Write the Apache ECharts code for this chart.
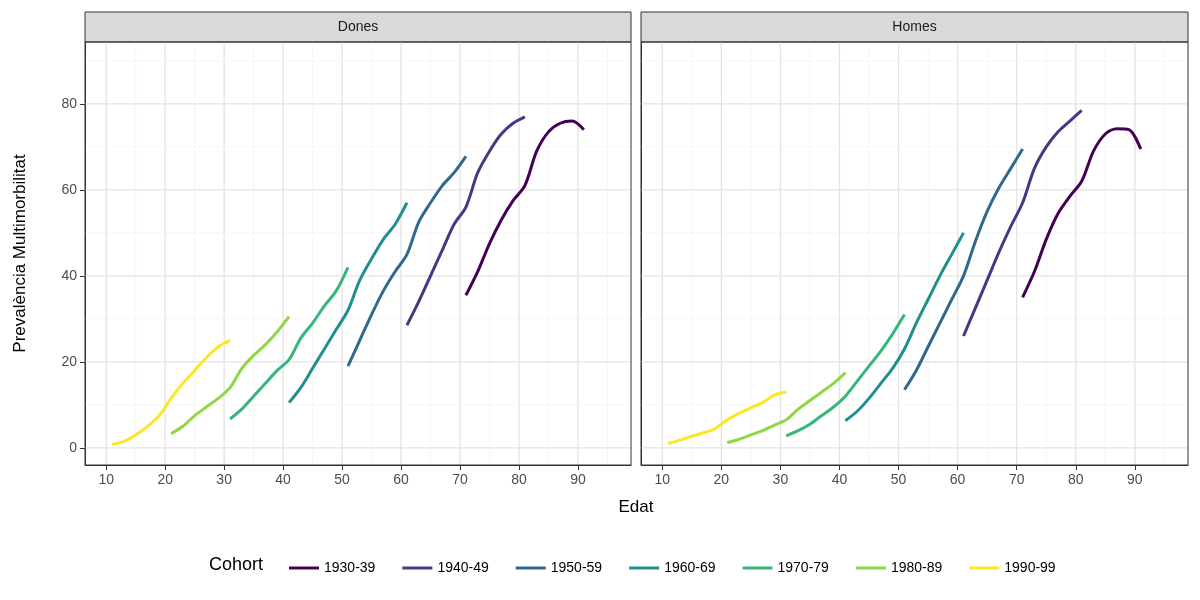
<!DOCTYPE html>
<html><head><meta charset="utf-8">
<script src="https://cdn.jsdelivr.net/npm/echarts@6/dist/echarts.min.js"></script>
<style>html,body{margin:0;background:#fff}#c{width:1200px;height:600px}</style>
</head><body><div id="c"></div>
<script>
var panels = ['Dones', 'Homes'];
var cohorts = ['1930-39', '1940-49', '1950-59', '1960-69', '1970-79', '1980-89', '1990-99'];
var colors = ['#440154', '#443A83', '#31688E', '#21908C', '#35B779', '#8FD744', '#FDE725'];
// start age of each cohort line; points every 2 years
var startAge = [71, 61, 51, 41, 31, 21, 11];
var dones = [
    [35.5, 41, 47.5, 53, 57.5, 61, 69, 73.5, 75.5, 76, 74],
    [28.5, 34, 40, 46, 52, 56, 64, 69, 73, 75.5, 77],
    [19, 25, 31, 36.5, 41, 45, 52.5, 57, 61, 64, 67.8],
    [10.5, 14, 18.5, 23, 27.5, 32, 39, 44, 48.5, 52, 57],
    [6.7, 9, 12, 15, 18, 20.5, 25.5, 29, 33, 36.5, 42],
    [3.3, 5, 7.5, 9.5, 11.5, 14, 18.5, 21.5, 24, 27, 30.5],
    [0.8, 1.5, 3, 5, 7.5, 11.5, 15, 18, 21, 23.5, 25]
];
var homes = [
    [35, 41, 48.5, 54.5, 58.5, 62, 69, 73, 74.2, 74, 69.5],
    [26, 32.5, 39, 45.5, 51.5, 57, 65, 70, 73.5, 76, 78.5],
    [13.5, 18, 23.5, 29, 34.5, 40, 48, 55, 60.5, 65, 69.5],
    [6.3, 8.5, 11.5, 15, 18.5, 23, 29, 34.5, 40, 45, 50],
    [2.8, 4, 5.5, 7.5, 9.5, 12, 15.5, 19, 22.5, 26.5, 31],
    [1.2, 2, 3, 4, 5.3, 6.5, 9, 11, 13, 15, 17.5],
    [1, 1.8, 2.7, 3.5, 4.5, 6.5, 8, 9.3, 10.5, 12.3, 13]
];
var xTicks = [10, 20, 30, 40, 50, 60, 70, 80, 90];
var yTicks = [0, 20, 40, 60, 80];

var chart = echarts.init(document.getElementById('c'));
var grids = [{left: 85, width: 546, top: 42, height: 423}, {left: 641, width: 547, top: 42, height: 423}];
var axisText = {color: '#4d4d4d', fontSize: 14, fontFamily: 'Liberation Sans'};
var X0 = 6.4, X1 = 99, Y0 = -4, Y1 = 94.4;
var xAxes = [], yAxes = [], series = [], graphic = [];
[0, 1].forEach(function (p) {
    xAxes.push({
        type: 'value', gridIndex: p, min: X0, max: X1,
        axisLabel: Object.assign({customValues: xTicks}, axisText),
        axisTick: {customValues: xTicks, lineStyle: {color: '#333'}},
        axisLine: {onZero: false, lineStyle: {color: '#333'}},
        splitLine: {show: false},
        name: p === 0 ? 'Edat' : '', nameLocation: 'middle', nameGap: 34,
        nameTextStyle: {fontSize: 17, color: '#000', fontFamily: 'Liberation Sans', padding: [0, 0, 0, 556]}
    });
    yAxes.push({
        type: 'value', gridIndex: p, min: Y0, max: Y1,
        axisLabel: Object.assign({show: p === 0, customValues: yTicks}, axisText),
        axisTick: {show: p === 0, customValues: yTicks, lineStyle: {color: '#333'}},
        axisLine: {show: true, onZero: false, lineStyle: {color: '#333'}},
        splitLine: {show: false},
        name: p === 0 ? 'Prevalència Multimorbilitat' : '', nameLocation: 'middle', nameGap: 56,
        nameTextStyle: {fontSize: 17, color: '#000', fontFamily: 'Liberation Sans'}
    });
    [10, 20, 30, 40, 50, 60, 70, 80, 90, 15, 25, 35, 45, 55, 65, 75, 85, 95].forEach(function (v, i) {
        series.push({type: 'line', xAxisIndex: p, yAxisIndex: p, silent: true, symbol: 'none', z: 1,
            lineStyle: {color: i < 9 ? '#e3e3e3' : '#f2f2f2', width: i < 9 ? 1.3 : 0.7},
            data: [[v, Y0], [v, Y1]]});
    });
    [0, 20, 40, 60, 80, 10, 30, 50, 70, 90].forEach(function (v, i) {
        series.push({type: 'line', xAxisIndex: p, yAxisIndex: p, silent: true, symbol: 'none', z: 1,
            lineStyle: {color: i < 5 ? '#e3e3e3' : '#f2f2f2', width: i < 5 ? 1.3 : 0.7},
            data: [[X0, v], [X1, v]]});
    });
    var src = p === 0 ? dones : homes;
    cohorts.forEach(function (c, k) {
        series.push({
            name: c, type: 'line', xAxisIndex: p, yAxisIndex: p, symbol: 'none', smooth: 0.3, z: 3,
            lineStyle: {width: 3, color: colors[k]}, itemStyle: {color: colors[k]},
            data: src[k].map(function (v, i) { return [startAge[k] + 2 * i, v]; })
        });
    });
    graphic.push({type: 'rect', shape: {x: grids[p].left, y: 12, width: grids[p].width, height: 30},
        style: {fill: '#d9d9d9', stroke: '#333', lineWidth: 1}});
    graphic.push({type: 'text', x: grids[p].left + grids[p].width / 2, y: 27,
        style: {text: panels[p], fill: '#1a1a1a', fontSize: 14, fontFamily: 'Liberation Sans', align: 'center', verticalAlign: 'middle'}});
    graphic.push({type: 'rect', shape: {x: grids[p].left, y: 42, width: grids[p].width, height: 423},
        style: {fill: 'none', stroke: '#333', lineWidth: 1}, z: 100});
});
graphic.push({type: 'text', x: 209, y: 565,
    style: {text: 'Cohort', fill: '#000', fontSize: 18, fontFamily: 'Liberation Sans', verticalAlign: 'middle'}});

chart.setOption({
    animation: false,
    grid: grids,
    xAxis: xAxes,
    yAxis: yAxes,
    legend: {
        data: cohorts, left: 284, top: 556, itemWidth: 30, itemHeight: 3, itemGap: 27,
        icon: 'rect',
        textStyle: {fontSize: 14, color: '#000', fontFamily: 'Liberation Sans'}
    },
    graphic: graphic,
    series: series
});
</script>
</body></html>
